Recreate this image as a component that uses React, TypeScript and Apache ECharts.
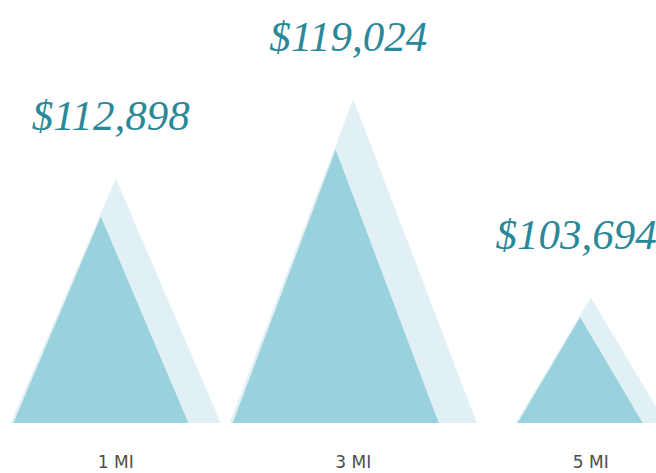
import React, { useEffect, useRef } from "react";
import * as echarts from "echarts";

// ---- data ----
const CATEGORIES: string[] = ["1 MI", "3 MI", "5 MI"];
const MEDIAN_VALUES: number[] = [112898, 119024, 103694];

// ---- axis range / styles ----
const Y_MIN = 94000;
const Y_MAX = 130000;
const TRI_WIDTHS = [175, 206, 125]; // base width of front triangle (px)
const DARK = "#99d2dc";
const LIGHT = "#e0f0f5";
const LABEL_COLOR = "#2a8898";
const CHART_W = 656;

function fmt(v: number): string {
  return "$" + v.toLocaleString("en-US");
}

export default function App() {
  const ref = useRef<HTMLDivElement>(null);
  useEffect(() => {
    if (!ref.current) return;
    const chart = echarts.init(ref.current, null, { renderer: "svg" });
    chart.setOption({
      animation: false,
      backgroundColor: "#ffffff",
      grid: {
        left: -3,
        width: 712.5,
        top: 30,
        bottom: 50,
        containLabel: false,
        outerBoundsMode: "none",
      },
      xAxis: {
        type: "category",
        data: CATEGORIES,
        axisLine: { show: false },
        axisTick: { show: false },
        splitLine: { show: false },
        axisLabel: {
          margin: 30,
          color: "#4d4d4d",
          fontSize: 17,
          fontFamily: "DejaVu Sans",
        },
      },
      yAxis: {
        type: "value",
        min: Y_MIN,
        max: Y_MAX,
        show: false,
        splitLine: { show: false },
      },
      series: [
        {
          type: "custom",
          clip: false,
          data: MEDIAN_VALUES.map((v, i) => [i, v]),
          renderItem: (params: any, api: any) => {
            const i = api.value(0);
            const v = api.value(1);
            const top = api.coord([i, v]);
            const base = api.coord([i, Y_MIN]);
            const cx = top[0];
            const baseY = base[1];
            const h = baseY - top[1];
            const w = TRI_WIDTHS[params.dataIndex];
            const lightApexY = baseY - 1.185 * h;
            const lightHalf = 0.6 * w;
            const dcx = cx - 0.085 * w;
            const labelX = Math.min(cx - 5, CHART_W - 80);
            return {
              type: "group",
              children: [
                {
                  type: "polygon",
                  shape: {
                    points: [
                      [cx, lightApexY],
                      [cx + lightHalf, baseY],
                      [cx - lightHalf, baseY],
                    ],
                  },
                  style: { fill: LIGHT },
                },
                {
                  type: "polygon",
                  shape: {
                    points: [
                      [dcx, top[1]],
                      [dcx + w / 2, baseY],
                      [dcx - w / 2, baseY],
                    ],
                  },
                  style: { fill: DARK },
                },
                {
                  type: "text",
                  style: {
                    text: fmt(v),
                    x: labelX,
                    y: lightApexY - 63,
                    align: "center",
                    verticalAlign: "middle",
                    fontSize: 43,
                    fontStyle: "italic",
                    fontFamily: "Liberation Serif",
                    fill: LABEL_COLOR,
                  },
                },
              ],
            };
          },
        },
      ],
    });
    return () => chart.dispose();
  }, []);
  return (
    <div
      ref={ref}
      style={{ position: "fixed", left: 0, top: 0, width: 656, height: 473 }}
    />
  );
}
